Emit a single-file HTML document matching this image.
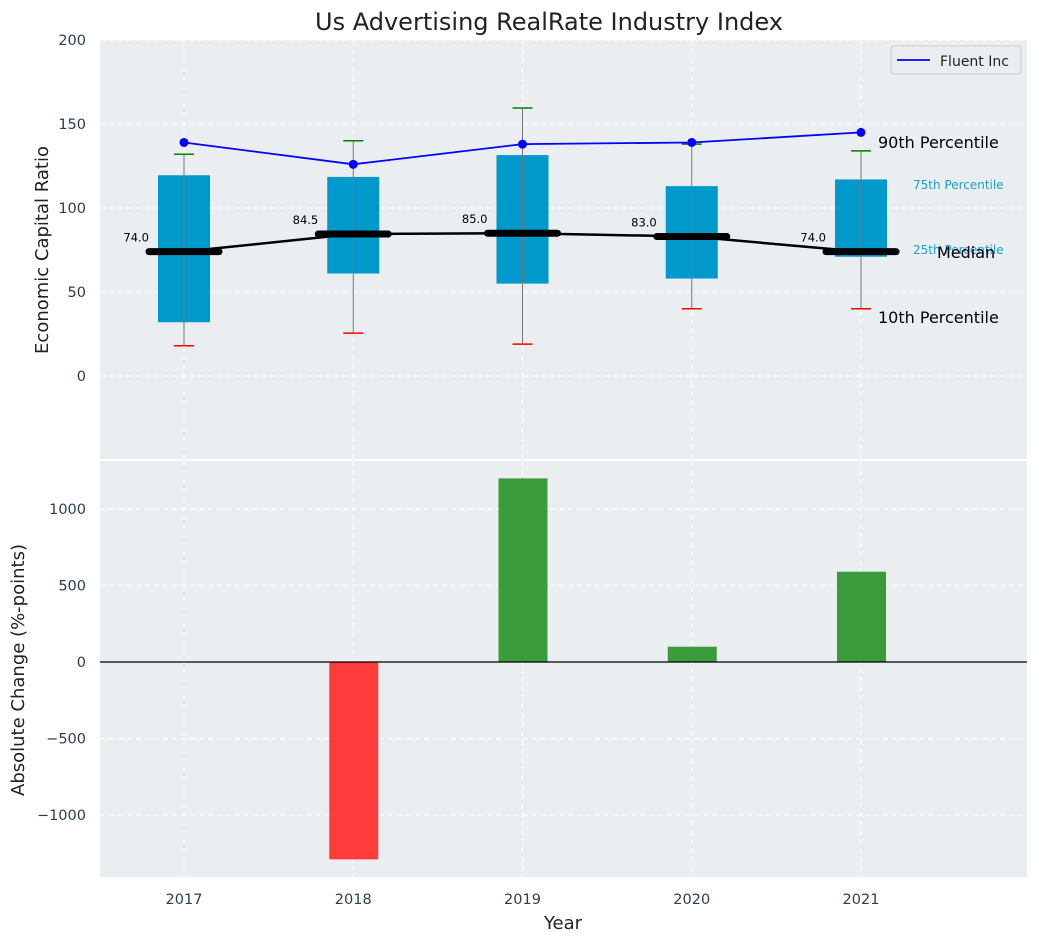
<!DOCTYPE html>
<html><head><meta charset="utf-8"><style>
body{margin:0;background:#fff;font-family:"Liberation Sans","DejaVu Sans",sans-serif}
svg text{font-family:"DejaVu Sans","Liberation Sans",sans-serif}
</style></head><body>
<svg id="c" width="1039" height="942" xmlns="http://www.w3.org/2000/svg"></svg>
<script>
const years=[2017,2018,2019,2020,2021];
const q75=[119.5,118.5,131.5,113,117];
const q25=[32,61,55,58,71];
const p90=[132,140,159.5,138,134];
const p10=[18,25.5,19,40,40];
const medians=[74,84.5,85,83,74];
const fluent=[139,126,138,139,145];
const changes=[0,-1290,1200,100,590];
const topTicks=[0,50,100,150,200];
const botTicks=[-1000,-500,0,500,1000];

const NS="http://www.w3.org/2000/svg";
const svg=document.getElementById('c');
function el(t,a,p){const e=document.createElementNS(NS,t);for(const k in a)e.setAttribute(k,a[k]);(p||svg).appendChild(e);return e;}
const X=v=>184+(v-2017)*169.25;
const YT=v=>376-v*1.68;
const YB=v=>662-v*0.153;

el('rect',{x:100,y:40,width:927,height:419,fill:'#eaeef0',});
el('rect',{x:100,y:461,width:927,height:416,fill:'#eaeef0',});

years.forEach(y=>{
  let g=el('line',{x1:X(y),x2:X(y),y1:40,y2:459,stroke:'#fff','stroke-dasharray':'5,4','stroke-width':1});
  
  g=el('line',{x1:X(y),x2:X(y),y1:461,y2:877,stroke:'#fff','stroke-dasharray':'5,4','stroke-width':1});
  
  const t=el('text',{x:X(y),y:904,'text-anchor':'middle','font-size':14.5,fill:'#2c3e50'});t.textContent=y;
  
});
topTicks.forEach(v=>{
  const g=el('line',{x1:100,x2:1027,y1:YT(v),y2:YT(v),stroke:'#fff','stroke-dasharray':'5,4'});
  
  const t=el('text',{x:86,y:YT(v)+5,'text-anchor':'end','font-size':14.5,fill:'#2c3e50'});t.textContent=v;
  
});
botTicks.forEach(v=>{
  const g=el('line',{x1:100,x2:1027,y1:YB(v),y2:YB(v),stroke:'#fff','stroke-dasharray':'5,4'});
  
  const t=el('text',{x:86,y:YB(v)+5,'text-anchor':'end','font-size':14.5,fill:'#2c3e50'});t.textContent=v<0?'\u2212'+(-v):v;
  
});

years.forEach((y,i)=>{
  const x=X(y);
  const b=el('rect',{x:x-26,y:YT(q75[i]),width:52,height:YT(q25[i])-YT(q75[i]),fill:'#0099cc'});
  
  const w=el('line',{x1:x,x2:x,y1:YT(p90[i]),y2:YT(p10[i]),stroke:'#777','stroke-width':1});
  
  const c1=el('line',{x1:x-10,x2:x+10,y1:YT(p90[i]),y2:YT(p90[i]),stroke:'green','stroke-width':1.5});
  
  const c2=el('line',{x1:x-10,x2:x+10,y1:YT(p10[i]),y2:YT(p10[i]),stroke:'red','stroke-width':1.5});
  
});
const mp=el('polyline',{points:years.map((y,i)=>X(y)+','+YT(medians[i])).join(' '),fill:'none',stroke:'#000','stroke-width':2.5});

years.forEach((y,i)=>{
  const x=X(y);
  const m=el('line',{x1:x-35,x2:x+35,y1:YT(medians[i]),y2:YT(medians[i]),stroke:'#000','stroke-width':7,'stroke-linecap':'round'});
  
  const t=el('text',{x:x-35,y:YT(medians[i])-10,'text-anchor':'end','font-size':11.5,fill:'#000'});t.textContent=medians[i].toFixed(1);
  
});
const fl=el('polyline',{points:years.map((y,i)=>X(y)+','+YT(fluent[i])).join(' '),fill:'none',stroke:'#0000ff','stroke-width':1.8});

years.forEach((y,i)=>{
  const d=el('circle',{cx:X(y),cy:YT(fluent[i]),r:4.5,fill:'#0000ff'});
  
});
years.forEach((y,i)=>{
  const v=changes[i];const x=X(y);
  const r=el('rect',{x:x-24,y:Math.min(YB(v),YB(0)),width:49,height:Math.abs(YB(v)-YB(0)),fill:v>=0?'#3a9b3a':'#ff3b3b'});
  
});
el('line',{x1:100,x2:1027,y1:YB(0),y2:YB(0),stroke:'#000','stroke-width':1.2,});
</script>
<svg width="1039" height="942" style="position:absolute;left:0;top:0" xmlns="http://www.w3.org/2000/svg">
<text x="549" y="30" text-anchor="middle" font-size="24" fill="#222">Us Advertising RealRate Industry Index</text>
<text x="48" y="250" text-anchor="middle" font-size="18" fill="#222" transform="rotate(-90 48 250)">Economic Capital Ratio</text>
<text x="24" y="670" text-anchor="middle" font-size="18" fill="#222" transform="rotate(-90 24 670)">Absolute Change (%-points)</text>
<text x="563" y="929" text-anchor="middle" font-size="18" fill="#222">Year</text>
<text x="878" y="148" font-size="16" fill="#000">90th Percentile</text>
<text x="913" y="189" font-size="12" fill="#1a9fd0">75th Percentile</text>
<text x="913" y="254" font-size="12" fill="#1a9fd0">25th Percentile</text>
<text x="937" y="258" font-size="16" fill="#000">Median</text>
<text x="878" y="323" font-size="16" fill="#000">10th Percentile</text>
<g>
<rect x="891" y="46" width="130" height="28" rx="3" fill="#eaeef0" stroke="#ccc"/>
<line x1="897" y1="60" x2="930" y2="60" stroke="#0000ff" stroke-width="1.8"/>
<text x="940" y="66" font-size="14" fill="#222">Fluent Inc</text>
</g>
</svg>
</body></html>
